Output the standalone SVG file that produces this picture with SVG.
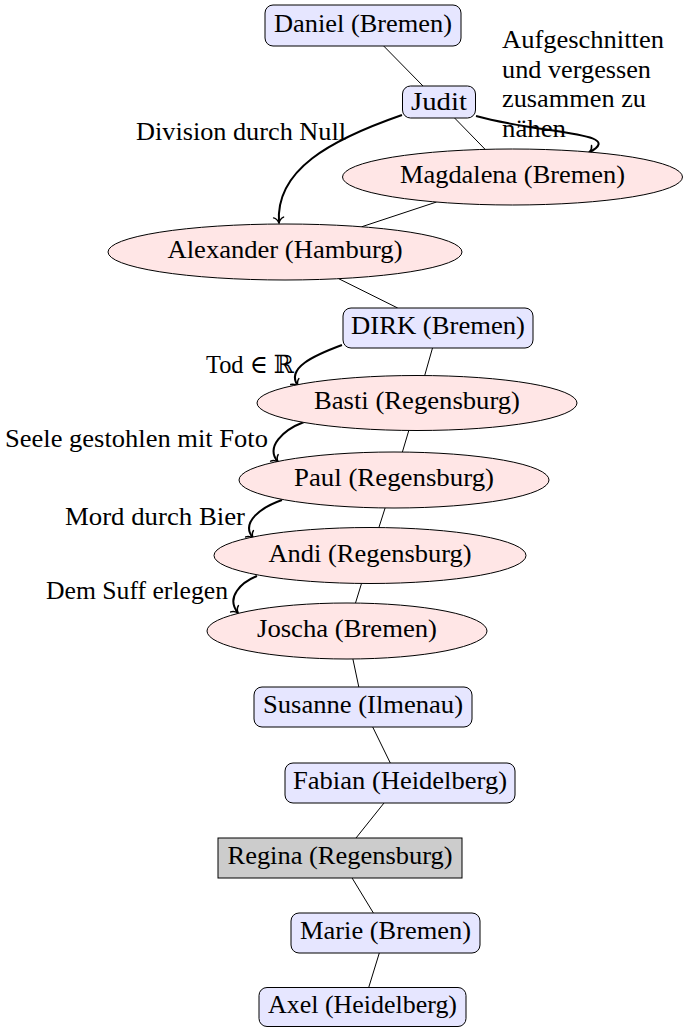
<svg xmlns="http://www.w3.org/2000/svg" width="683" height="1027" viewBox="0 0 683 1027">
<defs>
<style>
text{font-family:"Liberation Serif","DejaVu Serif",serif;font-size:25px;fill:#000}
.n text{text-anchor:middle}
.box{fill:#e6e6ff;stroke:#000;stroke-width:1}
.ell{fill:#ffe6e6;stroke:#000;stroke-width:1}
.gray{fill:#cccccc;stroke:#000;stroke-width:1}
.edge{stroke:#000;stroke-width:1;fill:none}
.arr{stroke:#000;stroke-width:2;fill:none;marker-end:url(#to)}
</style>
<marker id="to" markerUnits="userSpaceOnUse" viewBox="-7 -7 9 14" refX="0" refY="0" markerWidth="9" markerHeight="14" orient="auto" overflow="visible">
<path d="M-5.5,-5 C-4.5,-2 -1.5,-0.5 0,0 C-1.5,0.5 -4.5,2 -5.5,5" fill="none" stroke="#000" stroke-width="1.5" stroke-linecap="round"/>
</marker>
</defs>
<rect width="683" height="1027" fill="#fff"/>
<g id="connectors">
<line class="edge" x1="383.7" y1="46" x2="423" y2="86"/>
<line class="edge" x1="454.6" y1="118" x2="485.2" y2="149.4"/>
<line class="edge" x1="436.5" y1="202" x2="361.6" y2="226.8"/>
<line class="edge" x1="338.7" y1="278.7" x2="397.7" y2="308"/>
<line class="edge" x1="432.5" y1="348" x2="424.7" y2="375.5"/>
<line class="edge" x1="408.8" y1="430.5" x2="402.4" y2="452"/>
<line class="edge" x1="385.1" y1="508" x2="378.9" y2="527.5"/>
<line class="edge" x1="361.5" y1="583.5" x2="355.5" y2="603"/>
<line class="edge" x1="352.9" y1="659" x2="358.8" y2="687"/>
<line class="edge" x1="372.7" y1="727" x2="390.3" y2="763"/>
<line class="edge" x1="384" y1="803" x2="356" y2="838"/>
<line class="edge" x1="352.1" y1="878" x2="373.4" y2="913"/>
<line class="edge" x1="379.3" y1="953" x2="368.7" y2="987.5"/>
<path class="arr" d="M402,115 C330,140 275,170 279,223"/>
<path class="arr" d="M476,116 C540,134 628,132 589,152.5"/>
<path class="arr" d="M342,345 C315,355 285,368 298,386"/>
<path class="arr" d="M304,422 C283,430 265,447 278,462"/>
<path class="arr" d="M282,500 C262,507 240,522 253,538"/>
<path class="arr" d="M257,576 C242,582 225,597 238,613"/>
</g>
<g id="labels">
<text x="136" y="140" textLength="210" lengthAdjust="spacingAndGlyphs">Division durch Null</text>
<text x="502" y="48" textLength="162" lengthAdjust="spacingAndGlyphs">Aufgeschnitten</text>
<text x="502" y="78" textLength="149" lengthAdjust="spacingAndGlyphs">und vergessen</text>
<text x="502" y="107" textLength="144" lengthAdjust="spacingAndGlyphs">zusammen zu</text>
<text x="502" y="137" textLength="64" lengthAdjust="spacingAndGlyphs">nähen</text>
<text x="206" y="373" textLength="88" lengthAdjust="spacingAndGlyphs">Tod ∈ ℝ</text>
<text x="5" y="447" textLength="263" lengthAdjust="spacingAndGlyphs">Seele gestohlen mit Foto</text>
<text x="65" y="525" textLength="180" lengthAdjust="spacingAndGlyphs">Mord durch Bier</text>
<text x="46" y="599" textLength="182" lengthAdjust="spacingAndGlyphs">Dem Suff erlegen</text>
</g>
<g id="daniel" class="n"><rect class="box" x="265" y="5" width="196" height="41" rx="8"/><text x="363" y="31.5" textLength="178" lengthAdjust="spacingAndGlyphs">Daniel (Bremen)</text></g>
<g id="judit" class="n"><rect class="box" x="402.5" y="86" width="73" height="32" rx="8"/><text x="439" y="110" textLength="56" lengthAdjust="spacingAndGlyphs">Judit</text></g>
<g id="magdalena" class="n"><ellipse class="ell" cx="512.5" cy="177" rx="170" ry="28"/><text x="512.5" y="183" textLength="225" lengthAdjust="spacingAndGlyphs">Magdalena (Bremen)</text></g>
<g id="alexander" class="n"><ellipse class="ell" cx="285" cy="252" rx="177" ry="28"/><text x="285" y="258" textLength="235" lengthAdjust="spacingAndGlyphs">Alexander (Hamburg)</text></g>
<g id="dirk" class="n"><rect class="box" x="343" y="308" width="190" height="40" rx="8"/><text x="438" y="334" textLength="174" lengthAdjust="spacingAndGlyphs">DIRK (Bremen)</text></g>
<g id="basti" class="n"><ellipse class="ell" cx="417" cy="403" rx="160" ry="27.5"/><text x="417" y="409" textLength="206" lengthAdjust="spacingAndGlyphs">Basti (Regensburg)</text></g>
<g id="paul" class="n"><ellipse class="ell" cx="394" cy="480" rx="155" ry="28"/><text x="394" y="486" textLength="200" lengthAdjust="spacingAndGlyphs">Paul (Regensburg)</text></g>
<g id="andi" class="n"><ellipse class="ell" cx="370" cy="555.5" rx="156" ry="28"/><text x="370" y="561.5" textLength="203" lengthAdjust="spacingAndGlyphs">Andi (Regensburg)</text></g>
<g id="joscha" class="n"><ellipse class="ell" cx="347" cy="631" rx="140" ry="28"/><text x="347" y="637" textLength="180" lengthAdjust="spacingAndGlyphs">Joscha (Bremen)</text></g>
<g id="susanne" class="n"><rect class="box" x="254" y="687" width="218" height="40" rx="8"/><text x="363" y="713" textLength="200" lengthAdjust="spacingAndGlyphs">Susanne (Ilmenau)</text></g>
<g id="fabian" class="n"><rect class="box" x="285" y="763" width="230" height="40" rx="8"/><text x="400" y="789" textLength="214" lengthAdjust="spacingAndGlyphs">Fabian (Heidelberg)</text></g>
<g id="regina" class="n"><rect class="gray" x="218" y="838" width="244" height="40"/><text x="340" y="864" textLength="225" lengthAdjust="spacingAndGlyphs">Regina (Regensburg)</text></g>
<g id="marie" class="n"><rect class="box" x="291" y="913" width="189" height="40" rx="8"/><text x="385.5" y="939" textLength="171" lengthAdjust="spacingAndGlyphs">Marie (Bremen)</text></g>
<g id="axel" class="n"><rect class="box" x="259" y="987.5" width="207" height="39" rx="8"/><text x="362.5" y="1013" textLength="189" lengthAdjust="spacingAndGlyphs">Axel (Heidelberg)</text></g>
</svg>
